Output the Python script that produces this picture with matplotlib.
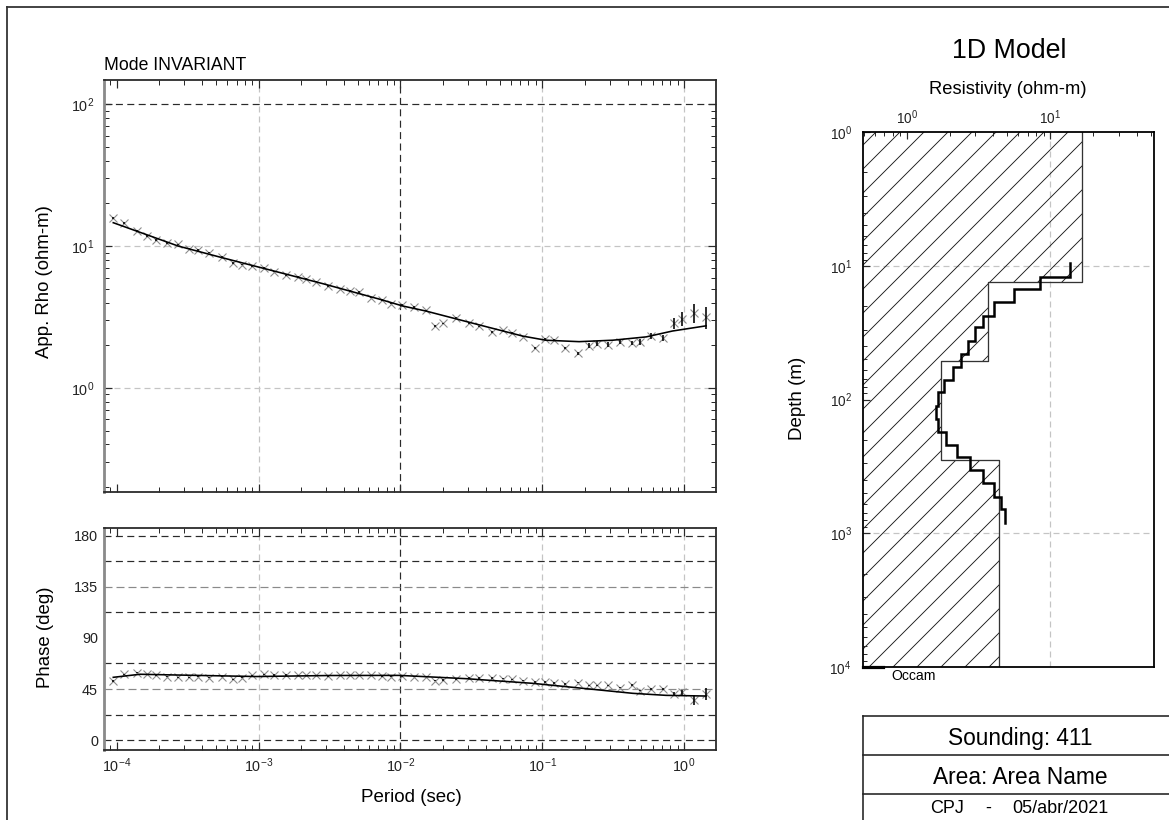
import numpy as np
import matplotlib
matplotlib.use("Agg")
import matplotlib.pyplot as plt
from matplotlib.lines import Line2D
from matplotlib.ticker import LogLocator, NullFormatter, FixedLocator

DPI = 144
W, H = 1169, 820

plt.rcParams['font.family'] = ['Liberation Sans', 'DejaVu Sans']
plt.rcParams['mathtext.fontset'] = 'custom'
plt.rcParams['mathtext.rm'] = 'Liberation Sans'
plt.rcParams['mathtext.it'] = 'Liberation Sans:italic'
plt.rcParams['mathtext.bf'] = 'Liberation Sans:bold'
plt.rcParams['hatch.linewidth'] = 0.45
plt.rcParams['lines.scale_dashes'] = False

# ---- sounding data (apparent resistivity and phase) ----
period = [9.45e-5, 1.125e-4, 1.38e-4, 1.64e-4, 1.89e-4, 2.27e-4, 2.71e-4, 3.24e-4,
          3.75e-4, 4.46e-4, 5.53e-4, 6.61e-4, 7.58e-4, 8.92e-4, 1.09e-3, 1.28e-3,
          1.56e-3, 1.90e-3, 2.17e-3, 2.56e-3, 3.09e-3, 3.73e-3, 4.44e-3, 5.10e-3,
          6.24e-3, 7.46e-3, 8.64e-3, 1.03e-2, 1.24e-2, 1.52e-2, 1.74e-2, 2.01e-2,
          2.48e-2, 3.04e-2, 3.61e-2, 4.41e-2, 5.27e-2, 6.14e-2, 7.29e-2, 8.92e-2,
          0.105, 0.122, 0.144, 0.178, 0.212, 0.244, 0.293, 0.354, 0.427, 0.492,
          0.585, 0.710, 0.843, 0.975, 1.17, 1.43]
rho_app = [15.7, 14.6, 12.8, 11.8, 11.0, 10.5, 10.3, 9.6, 9.4, 9.0,
           8.4, 7.6, 7.4, 7.2, 7.0, 6.6, 6.2, 6.05, 5.86, 5.61,
           5.23, 5.00, 4.82, 4.74, 4.32, 4.17, 3.92, 3.85, 3.72, 3.52,
           2.73, 2.86, 3.13, 2.87, 2.72, 2.48, 2.55, 2.44, 2.30, 1.92,
           2.21, 2.17, 1.91, 1.75, 1.99, 2.05, 2.02, 2.11, 2.08, 2.11,
           2.32, 2.26, 2.86, 3.08, 3.39, 3.16]
rho_err = [0.2, 0.2, 0.15, 0.15, 0.12, 0.12, 0.1, 0.1, 0.1, 0.1,
           0.08, 0.08, 0.08, 0.08, 0.07, 0.07, 0.06, 0.06, 0.06, 0.06,
           0.05, 0.05, 0.05, 0.05, 0.04, 0.04, 0.04, 0.04, 0.04, 0.04,
           0.03, 0.03, 0.03, 0.03, 0.03, 0.03, 0.03, 0.03, 0.03, 0.03,
           0.03, 0.03, 0.04, 0.04, 0.08, 0.08, 0.09, 0.08, 0.08, 0.09,
           0.10, 0.10, 0.27, 0.35, 0.52, 0.57]
phase = [52.0, 58.0, 59.4, 58.0, 57.4, 55.9, 55.3, 55.3, 55.9, 55.0,
         55.9, 53.5, 55.0, 57.0, 58.0, 57.4, 57.4, 57.0, 57.0, 57.0,
         56.5, 57.0, 57.0, 57.0, 57.0, 56.5, 55.9, 56.5, 55.9, 55.9,
         52.3, 52.9, 53.5, 54.7, 54.7, 54.7, 54.1, 53.5, 52.3, 51.2,
         51.2, 50.3, 49.4, 50.6, 48.2, 48.2, 48.2, 46.2, 48.5, 43.5,
         44.7, 45.3, 40.6, 42.1, 35.3, 40.6]
phase_err = [0.5] * 50 + [1.0, 1.0, 2.0, 2.0, 4.8, 5.2]

# ---- 1D model response ----
model_period = [9.45e-5, 2.71e-4, 5.53e-4, 1.08e-3, 2.84e-3, 7.14e-3, 1.04e-2, 1.52e-2,
                3.61e-2, 7.29e-2, 0.106, 0.182, 0.314, 0.540, 0.830, 1.43]
model_rho = [14.6, 10.0, 8.28, 6.97, 5.43, 4.22, 3.78, 3.48,
             2.78, 2.32, 2.17, 2.12, 2.17, 2.29, 2.52, 2.74]
model_phase_period = [9.45e-5, 1.46e-4, 2.50e-4, 9.66e-4, 3.17e-3, 9.86e-3,
                      2.91e-2, 8.57e-2, 0.193, 0.434, 0.746, 1.43]
model_phase = [55.3, 58.0, 57.4, 56.0, 56.9, 57.0, 54.1, 50.0, 45.6, 41.2, 39.4, 38.8]

# ---- layered envelope and Occam model ----
env_depth = [1, 13.3, 51.4, 282, 1e4]
env_rho = [16.6, 3.70, 1.73, 4.40]
occam_depth = [9.5, 12.1, 15.0, 18.8, 23.7, 28.9, 36.6, 45.8, 57.3, 71.6, 88.5,
               111, 139, 175, 219, 271, 339, 424, 535, 664, 836]
occam_rho = [13.8, 8.51, 5.55, 4.07, 3.39, 2.98, 2.67, 2.38, 2.09, 1.82,
             1.65, 1.60, 1.66, 1.87, 2.23, 2.77, 3.39, 4.07, 4.55, 4.85]

sounding = "Sounding: 411"
area = "Area: Area Name"
author, date = "CPJ", "05/abr/2021"

DARK = '#2a2a2a'
LIGHT = '#c4c4c4'
MID = '#8a8a8a'
DASH_D = (0, (3.5, 2.2))
DASH_L = (0, (3.0, 2.0))


def fx(px):
    return px / W


def fy(py):
    return 1 - py / H


def rect(l, t, r, b):
    return [fx(l), fy(b), (r - l) / W, (b - t) / H]


fig = plt.figure(figsize=(W / DPI, H / DPI), dpi=DPI)
fig.patch.set_facecolor('white')


def style_log_x(ax):
    ax.set_xscale('log')
    ax.set_xlim(8.13e-5, 1.68)
    ax.xaxis.set_major_locator(LogLocator(base=10, numticks=10))
    ax.xaxis.set_minor_locator(LogLocator(base=10, subs=np.arange(2, 10), numticks=10))
    ax.xaxis.set_minor_formatter(NullFormatter())
    ax.tick_params(which='both', direction='in', top=True, right=True, colors=DARK,
                   labelcolor='#222222', labelsize=7.2)
    ax.tick_params(which='major', length=4, width=0.6)
    ax.tick_params(which='minor', length=2.5, width=0.5)
    for s in ax.spines.values():
        s.set_color(DARK)
        s.set_linewidth(0.9)
    ax.spines['left'].set_color(MID)
    ax.spines['left'].set_linewidth(1.4)


# ---- apparent resistivity panel ----
ax1 = fig.add_axes(rect(104, 79.5, 716, 492))
style_log_x(ax1)
ax1.set_yscale('log')
ax1.set_ylim(0.185, 149)
ax1.tick_params(axis='x', labelbottom=False)
ax1.tick_params(axis='y', pad=5)
for v in [1e-3, 1e-1, 1e0]:
    ax1.axvline(v, color=LIGHT, lw=0.6, ls=DASH_L, zorder=0)
for v in [1e1, 1e0]:
    ax1.axhline(v, color=LIGHT, lw=0.6, ls=DASH_L, zorder=0)
ax1.axvline(1e-2, color=DARK, lw=0.6, ls=DASH_D, zorder=0)
ax1.axhline(1e2, color=DARK, lw=0.6, ls=DASH_D, zorder=0)
ax1.errorbar(period, rho_app, yerr=rho_err, fmt='none', ecolor='black',
             elinewidth=0.8, capsize=0, zorder=3)
ax1.plot(period, rho_app, 'x', color='#8c8c8c', ms=3.8, mew=0.55, zorder=2)
ax1.plot(model_period, model_rho, '-', color='black', lw=0.8, zorder=4)

# ---- phase panel ----
ax2 = fig.add_axes(rect(104, 528, 716, 750))
style_log_x(ax2)
ax2.set_ylim(-8.8, 187)
ax2.yaxis.set_major_locator(FixedLocator([0, 45, 90, 135, 180]))
ax2.tick_params(axis='y', which='major', length=0, pad=3)
ax2.tick_params(axis='x', pad=3)
for v in [1e-3, 1e-1, 1e0]:
    ax2.axvline(v, color=LIGHT, lw=0.6, ls=DASH_L, zorder=0)
ax2.axvline(1e-2, color=DARK, lw=0.6, ls=DASH_D, zorder=0)
for v in [0, 22.5, 67.5, 112.5, 157.5, 180]:
    ax2.axhline(v, color=DARK, lw=0.6, ls=DASH_D, zorder=0)
for v in [45, 135]:
    ax2.axhline(v, color=MID, lw=0.6, ls=(0, (4.0, 2.0)), zorder=0)
ax2.errorbar(period, phase, yerr=phase_err, fmt='none', ecolor='black',
             elinewidth=0.8, capsize=0, zorder=3)
ax2.plot(period, phase, 'x', color='#8c8c8c', ms=3.8, mew=0.55, zorder=2)
ax2.plot(model_phase_period, model_phase, '-', color='black', lw=0.8, zorder=4)

fig.text(fx(104), fy(70), "Mode INVARIANT", fontsize=8.8, ha='left', va='baseline')
fig.text(fx(45), fy(282), "App. Rho (ohm-m)", fontsize=9.3, rotation=90,
         ha='center', va='center')
fig.text(fx(45), fy(637), "Phase (deg)", fontsize=9.3, rotation=90,
         ha='center', va='center')
fig.text(fx(411), fy(798), "Period (sec)", fontsize=9.4, ha='center', va='center')

# ---- 1D model panel ----
ax3 = fig.add_axes(rect(862.7, 132, 1154.3, 667))
ax3.set_xscale('log')
ax3.set_yscale('log')
ax3.set_xlim(0.4934, 53.1)
ax3.set_ylim(1e4, 1)
ax3.xaxis.tick_top()
ax3.xaxis.set_minor_formatter(NullFormatter())
ax3.yaxis.set_minor_formatter(NullFormatter())
ax3.tick_params(which='both', direction='in', colors=DARK, labelcolor='#222222',
                labelsize=6.8, bottom=False, right=False)
ax3.tick_params(which='major', length=3.5, width=0.6)
ax3.tick_params(which='minor', length=2.2, width=0.5)
ax3.tick_params(axis='x', pad=2.5)
ax3.tick_params(axis='y', pad=5.5)
for s in ax3.spines.values():
    s.set_color('black')
    s.set_linewidth(0.9)
ax3.axvline(10, color=LIGHT, lw=0.6, ls=DASH_L, zorder=0)
for v in [1e1, 1e3]:
    ax3.axhline(v, color=LIGHT, lw=0.6, ls=DASH_L, zorder=0)

env_y = np.repeat(env_depth, 2)[1:-1]
env_x = np.repeat(env_rho, 2)
ax3.fill_betweenx(env_y, 0.4934, env_x, facecolor='none', edgecolor='#1a1a1a',
                  hatch='//', linewidth=0, zorder=1)
ax3.plot(env_x, env_y, '-', color='#333333', lw=0.65, zorder=2)

occ_y = np.repeat(occam_depth, 2)[1:-1]
occ_x = np.repeat(occam_rho, 2)
ax3.plot(occ_x, occ_y, '-', color='black', lw=1.25, zorder=3,
         solid_joinstyle='miter')

ax3.plot([0, 0.07], [0, 0], transform=ax3.transAxes, color='black', lw=1.6,
         clip_on=False, zorder=5)
ax3.text(0.1, -0.004, "Occam", transform=ax3.transAxes, fontsize=7.0,
         ha='left', va='top')

fig.text(fx(1009), fy(58), "1D Model", fontsize=13.4, ha='center', va='baseline')
fig.text(fx(1008), fy(94), "Resistivity (ohm-m)", fontsize=9.2, ha='center',
         va='baseline')
fig.text(fx(797), fy(398), "Depth (m)", fontsize=9.4, rotation=90,
         ha='center', va='center')

# ---- title block ----
for y in [716, 755, 794]:
    fig.add_artist(Line2D([fx(862.5), fx(1175)], [fy(y), fy(y)], color='#222222', lw=0.8))
fig.add_artist(Line2D([fx(862.5), fx(862.5)], [fy(716), fy(830)], color='#222222', lw=0.8))
fig.text(fx(1020), fy(738), sounding, fontsize=11.3, ha='center', va='center')
fig.text(fx(1020), fy(777), area, fontsize=11.4, ha='center', va='center')
fig.text(fx(946.7), fy(808.7), author, fontsize=9.0, ha='center', va='center')
fig.text(fx(988.3), fy(808.7), "-", fontsize=9.0, ha='center', va='center')
fig.text(fx(1060), fy(808.7), date, fontsize=9.0, ha='center', va='center')

# ---- page frame ----
fig.add_artist(Line2D([fx(6.5), fx(1175)], [fy(6.5), fy(6.5)], color='#333333', lw=0.9))
fig.add_artist(Line2D([fx(6.5), fx(6.5)], [fy(6.5), fy(830)], color='#333333', lw=0.9))

fig.savefig("out.png", dpi=DPI, facecolor='white')
